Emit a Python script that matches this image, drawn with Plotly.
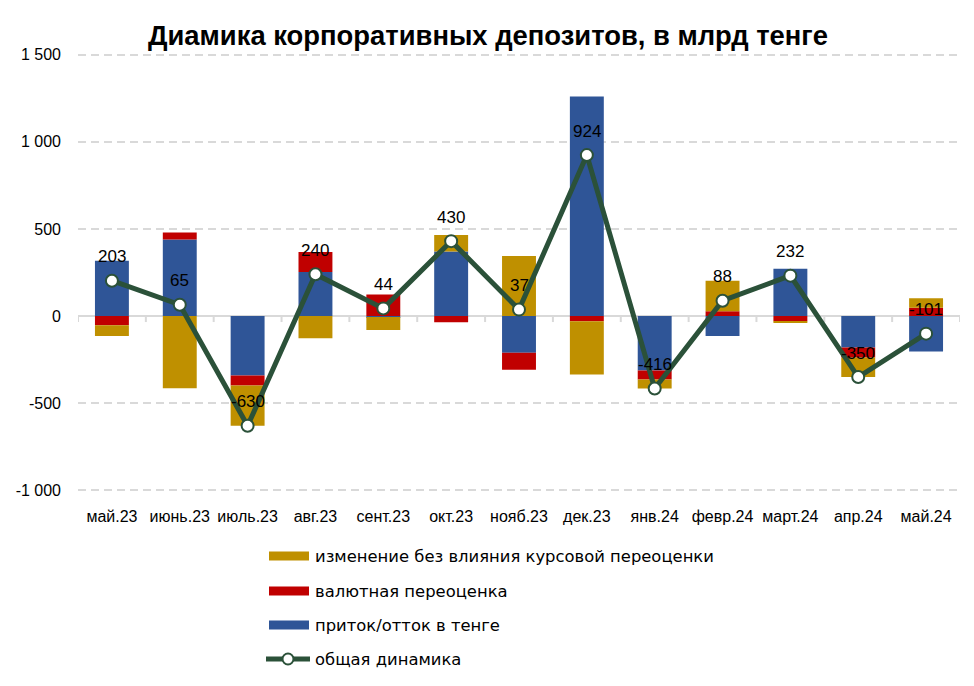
import plotly.graph_objects as go

# ---------------- data ----------------
categories = ["май.23", "июнь.23", "июль.23", "авг.23", "сент.23", "окт.23", "нояб.23",
              "дек.23", "янв.24", "февр.24", "март.24", "апр.24", "май.24"]
flow_tenge = [318, 440, -341, 253, -6, 370, -210, 1260, -312, -115, 272, -180, -203]
fx_reval = [-53, 40, -57, 114, 124, -35, -98, -30, -52, 28, -30, -58, 48]
no_fx_change = [-62, -415, -232, -127, -74, 95, 345, -306, -52, 175, -10, -112, 54]
total = [203, 65, -630, 240, 44, 430, 37, 924, -416, 88, 232, -350, -101]

y_tick_vals = [-1000, -500, 0, 500, 1000, 1500]
y_tick_text = ["-1 000", "-500", "0", "500", "1 000", "1 500"]

series_names = ["изменение без влияния курсовой переоценки", "валютная переоценка",
                "приток/отток в тенге", "общая динамика"]
title_text = "Диамика корпоративных депозитов, в млрд тенге"

# ---------------- style ----------------
C_GOLD = "#BF9000"
C_RED = "#C00000"
C_BLUE = "#2F5597"
C_LINE = "#2B5139"
C_GRID = "#D9D9D9"

W, H = 974, 686
ML, MR, MT, MB = 78, 14, 53, 194
PW, PH = W - ML - MR, H - MT - MB


def px_x(px):
    return (px - ML) / PW


def px_y(py):
    return (H - MB - py) / PH


fig = go.Figure()
for vals, col in [(flow_tenge, C_BLUE), (fx_reval, C_RED), (no_fx_change, C_GOLD)]:
    fig.add_trace(go.Bar(x=categories, y=vals, marker=dict(color=col, line=dict(width=0)),
                         showlegend=False, hoverinfo="skip"))

fig.add_trace(go.Scatter(x=categories, y=total, mode="lines+markers",
                         line=dict(color=C_LINE, width=5),
                         marker=dict(size=12, color="white", line=dict(color=C_LINE, width=2)),
                         showlegend=False, hoverinfo="skip"))

# data labels
for c, v in zip(categories, total):
    fig.add_annotation(x=c, y=v, text=str(v), showarrow=False, yshift=24,
                       font=dict(family="Liberation Sans", size=17, color="black"))

# small tick marks on the zero line at category boundaries
for i in range(len(categories) + 1):
    fig.add_shape(type="line", xref="x", yref="y", x0=i - 0.5, x1=i - 0.5,
                  ysizemode="pixel", yanchor=0, y0=0, y1=-6,
                  line=dict(color=C_GRID, width=2), layer="below")

# custom legend
leg_rows = [556, 591, 625, 659]
for name, col, yc in zip(series_names[:3], [C_GOLD, C_RED, C_BLUE], leg_rows[:3]):
    fig.add_shape(type="rect", xref="paper", yref="paper",
                  x0=px_x(269), x1=px_x(309), y0=px_y(yc + 4.5), y1=px_y(yc - 4.5),
                  fillcolor=col, line=dict(width=0))
fig.add_shape(type="line", xref="paper", yref="paper",
              x0=px_x(266), x1=px_x(310), y0=px_y(leg_rows[3]), y1=px_y(leg_rows[3]),
              line=dict(color=C_LINE, width=5))
fig.add_shape(type="circle", xref="paper", yref="paper",
              x0=px_x(282.5), x1=px_x(293.5), y0=px_y(leg_rows[3] + 5.5), y1=px_y(leg_rows[3] - 5.5),
              fillcolor="white", line=dict(color=C_LINE, width=2))
for name, yc in zip(series_names, leg_rows):
    fig.add_annotation(xref="paper", yref="paper", x=px_x(313), y=px_y(yc), text=name,
                       showarrow=False, xanchor="left", yanchor="middle",
                       font=dict(family="DejaVu Sans", size=16.4, color="black"))

fig.update_layout(
    width=W, height=H,
    margin=dict(l=ML, r=MR, t=MT, b=MB),
    paper_bgcolor="white", plot_bgcolor="white",
    barmode="relative", bargap=0.5,
    title=dict(text="<b>" + title_text + "</b>", x=488 / W, xref="container", xanchor="center",
               y=1 - 35 / H, yref="container", yanchor="middle",
               font=dict(family="Liberation Sans", size=27.4, color="black")),
    xaxis=dict(type="category", range=[-0.5, len(categories) - 0.5], showgrid=False,
               showline=False, zeroline=False, ticks="outside", ticklen=10, tickcolor="rgba(0,0,0,0)",
               tickfont=dict(family="Liberation Sans", size=16, color="black"), fixedrange=True),
    yaxis=dict(range=[-1010, 1510], tickvals=y_tick_vals, ticktext=y_tick_text,
               showgrid=True, gridcolor=C_GRID, gridwidth=2, griddash="8px,5px",
               zeroline=True, zerolinecolor=C_GRID, zerolinewidth=2,
               showline=False, ticks="", ticklabelstandoff=16,
               tickfont=dict(family="Liberation Sans", size=16, color="black"), fixedrange=True),
    font=dict(family="Liberation Sans", color="black"),
)

fig.write_html("out.html")
